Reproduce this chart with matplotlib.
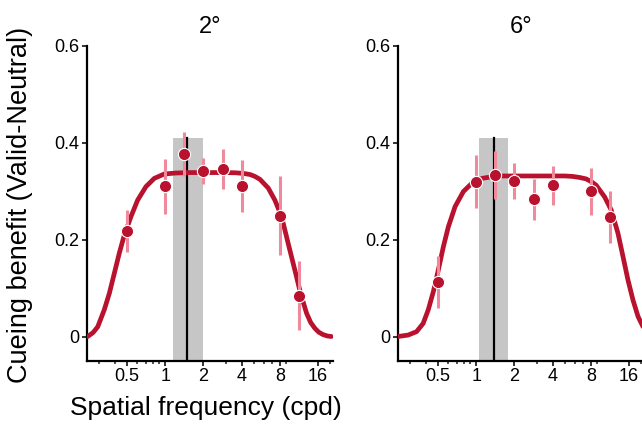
import numpy as np
import matplotlib
matplotlib.use("Agg")
import matplotlib.pyplot as plt
from matplotlib.ticker import FixedLocator, NullFormatter, LogLocator

plt.rcParams['font.family'] = ['Liberation Sans', 'DejaVu Sans']

# measured points (spatial frequency in cpd)
sf = [0.5, 1.0, 1.41, 2.0, 2.83, 4.0, 8.0, 11.3]

benefit_2 = [0.218, 0.310, 0.376, 0.341, 0.345, 0.310, 0.249, 0.084]
err_2 = [0.043, 0.057, 0.046, 0.027, 0.041, 0.053, 0.081, 0.071]

benefit_6 = [0.112, 0.319, 0.333, 0.321, 0.283, 0.312, 0.299, 0.246]
err_6 = [0.054, 0.055, 0.050, 0.037, 0.042, 0.040, 0.048, 0.053]

# fitted curves
fit_sf_2 = [0.245, 0.27, 0.294, 0.331, 0.363, 0.397, 0.435, 0.476, 0.537, 0.606,
            0.705, 0.82, 0.982, 1.2, 1.5, 2.0, 3.0, 3.6, 4.2, 4.66, 5.1, 5.58,
            6.49, 7.32, 8.27, 9.31, 10.51, 11.66, 13.0, 14.0, 15.1, 16.2, 17.5,
            19.0, 20.4]
fit_val_2 = [0.0, 0.008, 0.02, 0.055, 0.089, 0.13, 0.172, 0.209, 0.247, 0.281,
             0.309, 0.326, 0.335, 0.337, 0.338, 0.338, 0.338, 0.3375, 0.336, 0.334,
             0.330, 0.324, 0.306, 0.281, 0.247, 0.192, 0.137, 0.089, 0.048, 0.029,
             0.017, 0.009, 0.004, 0.001, 0.0]

fit_sf_6 = [0.242, 0.291, 0.339, 0.382, 0.419, 0.459, 0.503, 0.551, 0.603, 0.682,
            0.793, 0.925, 1.11, 1.3, 1.6, 2.0, 3.0, 4.0, 5.0, 5.76, 6.5, 7.34,
            8.1, 8.81, 10.27, 11.58, 13.09, 14.34, 15.72, 17.2, 18.86, 20.65, 21.4]
fit_val_6 = [0.0, 0.003, 0.01, 0.027, 0.055, 0.092, 0.137, 0.185, 0.226, 0.268,
             0.299, 0.316, 0.326, 0.329, 0.331, 0.331, 0.331, 0.331, 0.331, 0.330,
             0.328, 0.325, 0.319, 0.312, 0.288, 0.261, 0.213, 0.165, 0.116, 0.075,
             0.041, 0.02, 0.013]

# peak estimate and its interval
peak_2, band_2 = 1.49, (1.16, 1.98)
peak_6, band_6 = 1.37, (1.06, 1.78)

titles = ["2°", "6°"]
xticks = [0.5, 1, 2, 4, 8, 16]
xticklabels = ["0.5", "1", "2", "4", "8", "16"]
yticks = [0, 0.2, 0.4, 0.6]
yticklabels = ["0", "0.2", "0.4", "0.6"]

red = "#b8122f"
pink = "#f0899c"

fig = plt.figure(figsize=(6.42, 4.25), dpi=100)
ax1 = fig.add_axes([87/642, 1 - 360.75/425, 246/642, 315.25/425])
ax2 = fig.add_axes([398/642, 1 - 360.75/425, 246/642, 315.25/425])

panels = [
    (ax1, benefit_2, err_2, fit_sf_2, fit_val_2, peak_2, band_2, titles[0]),
    (ax2, benefit_6, err_6, fit_sf_6, fit_val_6, peak_6, band_6, titles[1]),
]

for ax, ben, err, fsf, fval, peak, band, title in panels:
    ax.set_xscale("log")
    ax.set_xlim(0.242, 21.0)
    ax.set_ylim(-0.05, 0.6)

    ax.fill_between(band, -0.05, 0.41, color="#c6c6c6", lw=0, zorder=1)
    ax.plot([peak, peak], [-0.05, 0.41], color="black", lw=1.6, zorder=2)
    ax.plot(fsf, fval, color=red, lw=3.4, solid_capstyle="round",
            solid_joinstyle="round", zorder=3)
    ax.errorbar(sf, ben, yerr=err, fmt="none", ecolor=pink, elinewidth=2.2,
                capsize=0, zorder=4)
    ax.plot(sf, ben, "o", color=red, ms=8.8, mec="white", mew=0.8, zorder=5)

    for s in ["top", "right"]:
        ax.spines[s].set_visible(False)
    ax.spines["left"].set_bounds(-0.05, 0.6)
    for s in ["left", "bottom"]:
        ax.spines[s].set_linewidth(1.6)

    ax.xaxis.set_major_locator(FixedLocator(xticks))
    ax.set_xticklabels(xticklabels)
    ax.xaxis.set_minor_locator(LogLocator(base=10, subs=np.arange(2, 10)))
    ax.xaxis.set_minor_formatter(NullFormatter())
    ax.set_yticks(yticks)
    ax.set_yticklabels(yticklabels)
    ax.tick_params(axis="both", which="major", labelsize=13, width=1.4,
                   length=3.5, pad=2, color="#333333")
    ax.tick_params(axis="x", which="minor", width=1.2, length=2.5, color="#333333")
    ax.set_title(title, fontsize=17, pad=9)

fig.text(20/642, 1 - 205/425, "Cueing benefit (Valid-Neutral)", rotation=90,
         ha="center", va="center", fontsize=19.5)
fig.text(206/642, 1 - 408/425, "Spatial frequency (cpd)", ha="center",
         va="center", fontsize=19)

fig.savefig("out.png", dpi=100)
